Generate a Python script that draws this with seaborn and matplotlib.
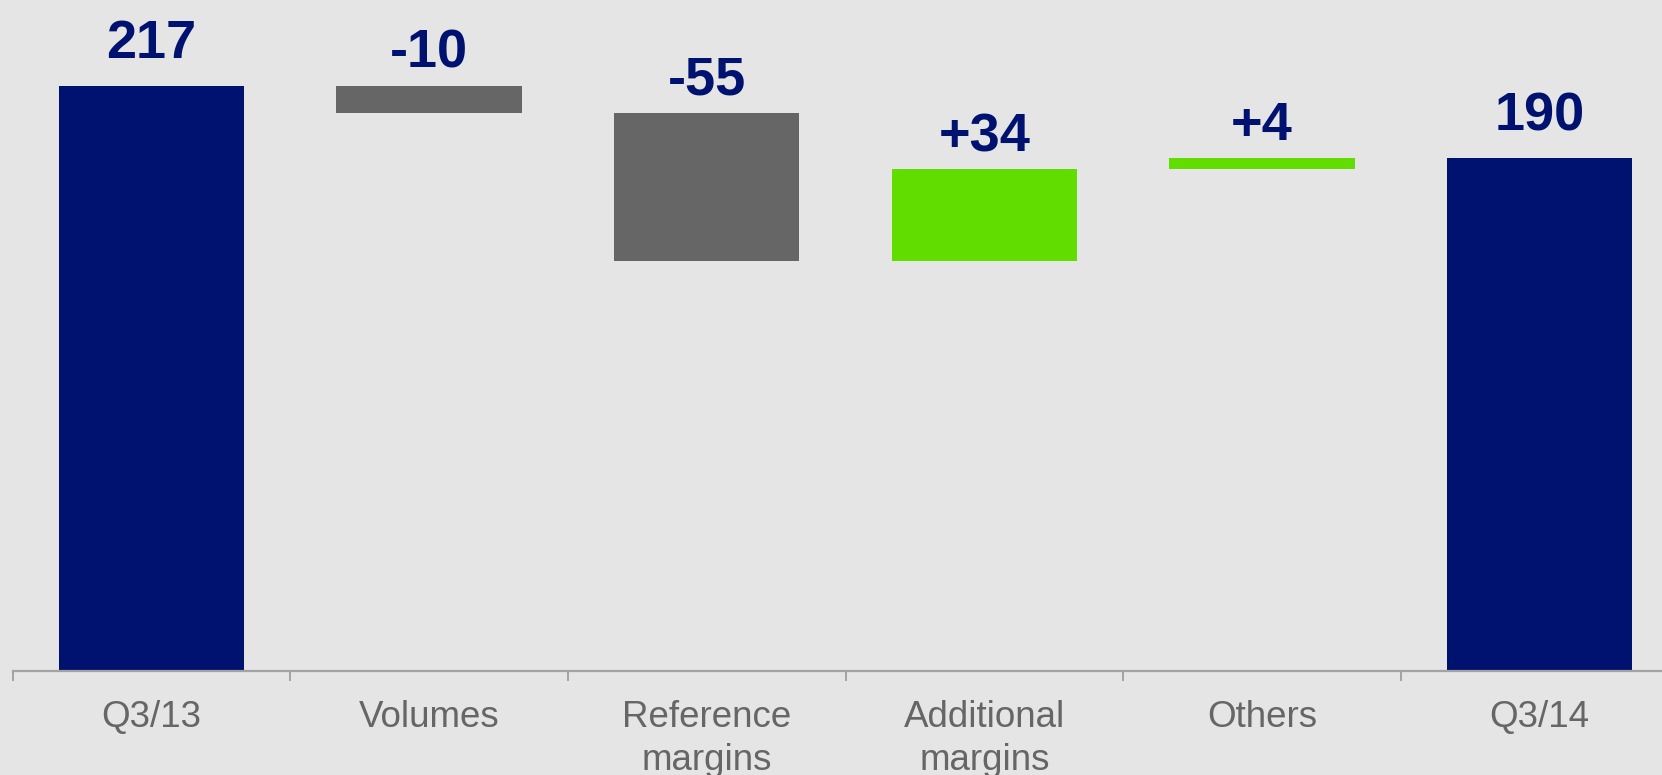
import matplotlib
matplotlib.use("Agg")
import matplotlib.pyplot as plt
import numpy as np
import pandas as pd
import seaborn as sns

categories = ["Q3/13", "Volumes", "Reference\nmargins", "Additional\nmargins", "Others", "Q3/14"]
start_value = 217
deltas = [-10, -55, 34, 4]
end_value = 190
labels = ["217", "-10", "-55", "+34", "+4", "190"]
colors = ["#001270", "#666666", "#666666", "#62dd00", "#62dd00", "#001270"]

# waterfall: floating bars for the steps, full bars for the totals
steps = np.cumsum([start_value] + deltas)
bottoms = [0] + [min(a, b) for a, b in zip(steps[:-1], steps[1:])] + [0]
heights = [start_value] + [abs(d) for d in deltas] + [end_value]
tops = [b + h for b, h in zip(bottoms, heights)]

df = pd.DataFrame({"cat": categories, "height": heights, "bottom": bottoms})

bg = "#e5e5e5"
sns.set_theme(style="white", rc={"axes.facecolor": bg, "figure.facecolor": bg})
plt.rcParams["font.family"] = ["Liberation Sans", "DejaVu Sans"]

fig = plt.figure(figsize=(16.62, 7.75), dpi=100)
ax = fig.add_axes([12.6 / 1662, 104 / 775, 1666 / 1662, 671 / 775])

sns.barplot(data=df, x="cat", y="height", bottom=df["bottom"].values,
            width=0.667, color=colors[0], saturation=1, ax=ax)
for p, c in zip(ax.patches, colors):
    p.set_facecolor(c)
    p.set_edgecolor("none")

ax.set_xlim(-0.5, 5.5)
ax.set_ylim(0, 671 / 2.698)

for i, (t, lab) in enumerate(zip(tops, labels)):
    off = 20 if i in (0, len(labels) - 1) else 13
    ax.annotate(lab, xy=(i, t), xytext=(0, off), textcoords="offset points",
                ha="center", va="baseline", fontsize=39, fontweight="bold",
                color="#001270")

for s in ["top", "right", "left"]:
    ax.spines[s].set_visible(False)
ax.spines["bottom"].set_color("#a3a3a3")
ax.spines["bottom"].set_linewidth(1.6)
ax.set_yticks([])
ax.set_xlabel("")
ax.set_ylabel("")
ax.set_xticks(range(len(categories)))
ax.set_xticklabels(categories, fontsize=26.5, color="#666666", linespacing=1.3)
ax.tick_params(axis="x", which="major", length=0, pad=21)
ax.set_xticks(np.arange(-0.5, len(categories), 1.0), minor=True)
ax.tick_params(axis="x", which="minor", length=7.2, width=1.4, color="#a3a3a3", bottom=True)

fig.savefig("out.png", dpi=100, facecolor=bg)
